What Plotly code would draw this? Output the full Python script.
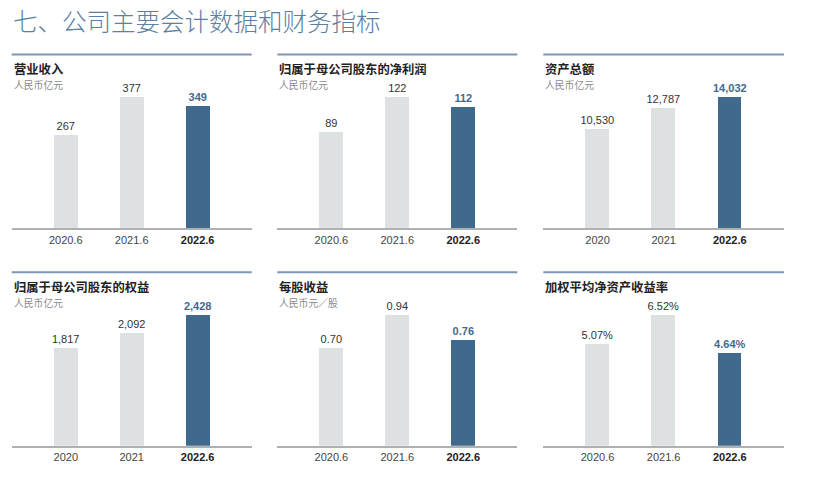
import plotly.graph_objects as go

W, H = 830, 482

# ---------------- data ----------------
page_title = "七、公司主要会计数据和财务指标"

periods_half = ["2020.6", "2021.6", "2022.6"]
periods_year = ["2020", "2021", "2022.6"]

revenue = [267, 377, 349]
net_profit = [89, 122, 112]
total_assets = [10530, 12787, 14032]
equity = [1817, 2092, 2428]
eps = [0.70, 0.94, 0.76]
roe = [5.07, 6.52, 4.64]

panel_titles = ["营业收入", "归属于母公司股东的净利润", "资产总额",
                "归属于母公司股东的权益", "每股收益", "加权平均净资产收益率"]
panel_units = ["人民币亿元", "人民币亿元", "人民币亿元",
               "人民币亿元", "人民币元／股", ""]

# ---------------- style ----------------
LIGHT = "#dde1e2"
DARK = "#3f6a8e"
RULE = "#7b97b3"
TITLE_BLUE = "#5b80a3"
FONT = "Liberation Sans, Arial, sans-serif"
CJK = "Noto Sans CJK SC, sans-serif"


def px_x(x):
    return x / W


def px_y(y):
    return 1 - y / H


panels = [
    # (values, labels, formatter, left, right, baseline_px, ruler_px)
    (revenue, periods_half, lambda v: f"{v:,}", 11.7, 251.7, 228.3, 54.5),
    (net_profit, periods_half, lambda v: f"{v:,}", 277.3, 517.3, 228.3, 54.5),
    (total_assets, periods_year, lambda v: f"{v:,}", 543.3, 784.0, 228.3, 54.5),
    (equity, periods_year, lambda v: f"{v:,}", 11.7, 251.7, 445.7, 272.3),
    (eps, periods_half, lambda v: f"{v:.2f}", 277.3, 517.3, 445.7, 272.3),
    (roe, periods_half, lambda v: f"{v:.2f}%", 543.3, 784.0, 445.7, 272.3),
]

fig = go.Figure()
shapes = []
annotations = [
    dict(text=page_title, x=px_x(11), y=px_y(21), xref="paper", yref="paper",
         xanchor="left", yanchor="middle", showarrow=False,
         font=dict(family=CJK, size=24.5, color=TITLE_BLUE, weight=300))
]

MAX_BAR_PX = 131.3
for i, (vals, labels, fmt, left, right, base, rule_y) in enumerate(panels):
    n = i + 1
    xa = "x" if n == 1 else f"x{n}"
    ya = "y" if n == 1 else f"y{n}"
    top_px = base - 140
    ymax = max(vals) * (base - top_px) / MAX_BAR_PX

    colors = [LIGHT, LIGHT, DARK]
    text = [fmt(v) for v in vals]
    text[-1] = f"<b>{text[-1]}</b>"
    fig.add_trace(go.Bar(
        x=[0, 1, 2], y=vals, xaxis=xa, yaxis=ya,
        marker=dict(color=colors, line=dict(width=0)),
        width=0.36,
        text=text, textposition="outside", cliponaxis=False,
        constraintext="none",
        textfont=dict(family=FONT, size=11, color=["#333333", "#333333", DARK]),
        hoverinfo="skip", showlegend=False,
    ))

    ticktext = [f"<span style='color:#444444'>{labels[0]}</span>",
                f"<span style='color:#444444'>{labels[1]}</span>",
                f"<b>{labels[2]}</b>"]
    fig.layout[f"xaxis{'' if n == 1 else n}"] = dict(
        domain=[px_x(left), px_x(right)], anchor=ya,
        range=[-0.82, 2.82],
        tickvals=[0, 1, 2], ticktext=ticktext,
        showline=True, linecolor="#aeb1b3", linewidth=2,
        showgrid=False, zeroline=False, ticks="",
        tickfont=dict(family=FONT, size=11, color="#222222"),
        fixedrange=True,
    )
    fig.layout[f"yaxis{'' if n == 1 else n}"] = dict(
        domain=[px_y(base), px_y(top_px)], anchor=xa,
        range=[0, ymax], visible=False, fixedrange=True,
    )

    shapes.append(dict(type="line", xref="paper", yref="paper",
                       x0=px_x(left), x1=px_x(right),
                       y0=px_y(rule_y), y1=px_y(rule_y),
                       line=dict(color=RULE, width=2)))
    annotations.append(dict(text=panel_titles[i], x=px_x(left), y=px_y(rule_y + 15),
                            xref="paper", yref="paper", xanchor="left", yanchor="middle",
                            showarrow=False,
                            font=dict(family=CJK, size=12.3, color="#222222", weight="bold")))
    if panel_units[i]:
        annotations.append(dict(text=panel_units[i], x=px_x(left), y=px_y(rule_y + 30.5),
                                xref="paper", yref="paper", xanchor="left", yanchor="middle",
                                showarrow=False,
                                font=dict(family=CJK, size=9.8, color="#8a8a8a")))

fig.update_layout(
    width=W, height=H, margin=dict(l=0, r=0, t=0, b=0),
    paper_bgcolor="white", plot_bgcolor="white",
    shapes=shapes, annotations=annotations, bargap=0,
)

# remove the browser's default 8px page margin so the figure fills the window
fig.write_html("out.html", config={"displayModeBar": False},
               post_script="document.body.style.margin='0';")
